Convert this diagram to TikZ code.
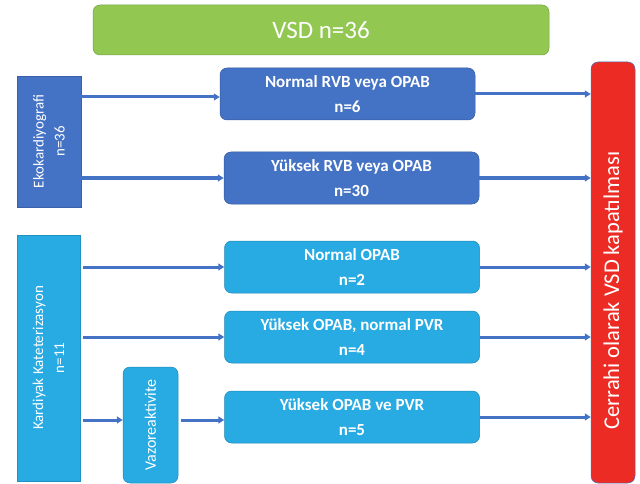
\documentclass[tikz,border=0pt]{standalone}
\usepackage{fontspec}
\setmainfont{Carlito}
\usetikzlibrary{arrows.meta}

\definecolor{vsdyesil}{RGB}{146,200,82}
\definecolor{koyumavi}{RGB}{68,114,196}
\definecolor{acikmavi}{RGB}{40,170,226}
\definecolor{kirmizi}{RGB}{236,44,36}

\begin{document}
\begin{tikzpicture}[x=1pt,y=-1pt,>={Triangle[length=6pt,width=7pt]},
  kutu/.style={draw=#1!80!black,fill=#1,line width=0.5pt,rounded corners=7pt,
    text=white,inner sep=0pt},
  sonuckutu/.style={kutu=#1,minimum width=255pt,minimum height=52pt,align=center,
    font=\fontsize{17}{25}\selectfont\bfseries},
  yontem/.style={draw=#1!85!black,fill=#1,line width=0.5pt,text=white,inner sep=0pt,
    rotate=90,align=center,font=\fontsize{15}{21}\selectfont},
  ok/.style={->,koyumavi,line width=3pt}]

  \useasboundingbox (0,0) rectangle (640,484);

  % VSD hasta sayisi
  \node[kutu=vsdyesil,minimum width=456pt,minimum height=50pt,
    font=\fontsize{25}{30}\selectfont] (vsd) at (321,30) {VSD n=36};

  % Ekokardiyografi (dondurulmus: north sol, south sag kenar)
  \node[yontem=koyumavi,minimum width=131pt,minimum height=64pt] (eko) at (49,141.5)
    {Ekokardiyografi\\n=36};
  \node[sonuckutu=koyumavi] (nrvb) at (347.5,94) {Normal RVB veya OPAB\\n=6};
  \node[sonuckutu=koyumavi] (yrvb) at (351.5,178) {Yüksek RVB veya OPAB\\n=30};

  % Kardiyak kateterizasyon
  \node[yontem=acikmavi,minimum width=246pt,minimum height=63pt] (kard) at (48.5,358)
    {Kardiyak Kateterizasyon\\n=11};
  \node[sonuckutu=acikmavi] (nopab) at (352,267) {Normal OPAB\\n=2};
  \node[sonuckutu=acikmavi] (yopab) at (352,337) {Yüksek OPAB, normal PVR\\n=4};
  \node[kutu=acikmavi,rotate=90,minimum width=116pt,minimum height=55pt,
    font=\fontsize{16}{20}\selectfont] (vaz) at (150.5,425) {Vazoreaktivite};
  \node[sonuckutu=acikmavi] (ypvr) at (352,417) {Yüksek OPAB ve PVR\\n=5};

  % Cerrahi kapatma
  \node[kutu=kirmizi,draw=koyumavi,rotate=90,minimum width=421pt,minimum height=44pt,
    font=\fontsize{22.5}{26}\selectfont] (cerrahi) at (613,272.5)
    {Cerrahi olarak VSD kapatılması\kern36pt};

  % Oklar
  \draw[ok] (eko.south |- 0,97) -- (nrvb.west |- 0,97);
  \draw[ok] (eko.south |- yrvb.west) -- (yrvb.west);
  \draw[ok,shorten <=3pt] (kard.south |- nopab.west) -- (nopab.west);
  \draw[ok,shorten <=3pt] (kard.south |- yopab.west) -- (yopab.west);
  \draw[ok,shorten <=3pt] (kard.south |- 0,420) -- (vaz.north |- 0,420);
  \draw[ok,shorten <=3pt] (vaz.south |- 0,420) -- (ypvr.west |- 0,420);

  \foreach \kaynak in {nrvb,yrvb,nopab,yopab,ypvr}
    \draw[ok] (\kaynak.east) -- (\kaynak.east -| cerrahi.north);

\end{tikzpicture}
\end{document}
